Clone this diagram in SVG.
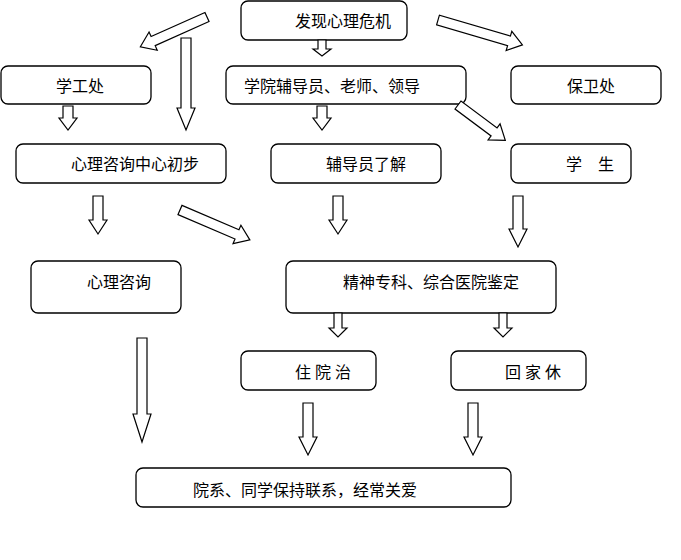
<svg xmlns="http://www.w3.org/2000/svg" width="681" height="560" viewBox="0 0 681 560">
<style>
rect{fill:#fff;stroke:#000;stroke-width:1.3}
text{font-family:"Liberation Serif","Noto Sans CJK SC",serif;font-size:16px;fill:#000}
polygon{fill:#fff;stroke:#000;stroke-width:1.2}
</style>
<rect width="681" height="560" style="stroke:none"/>
<g id="n1"><rect x="241" y="1" width="166" height="39" rx="7"/><text x="295" y="27">发现心理危机</text></g>
<g id="n2"><rect x="1" y="66" width="150" height="38" rx="7"/><text x="56" y="92">学工处</text></g>
<g id="n3"><rect x="226" y="66" width="240" height="38" rx="7"/><text x="244" y="92">学院辅导员、老师、领导</text></g>
<g id="n4"><rect x="511" y="66" width="150" height="38" rx="7"/><text x="567" y="92">保卫处</text></g>
<g id="n5"><rect x="16" y="144" width="210" height="39" rx="7"/><text x="71" y="170">心理咨询中心初步</text></g>
<g id="n6"><rect x="271" y="144" width="170" height="39" rx="7"/><text x="326" y="170">辅导员了解</text></g>
<g id="n7"><rect x="511" y="144" width="120" height="39" rx="7"/><text x="566" y="170">学　生</text></g>
<g id="n8"><rect x="31" y="261" width="150" height="52" rx="7"/><text x="87" y="288">心理咨询</text></g>
<g id="n9"><rect x="286" y="261" width="270" height="52" rx="7"/><text x="343" y="288">精神专科、综合医院鉴定</text></g>
<g id="n10"><rect x="241" y="351" width="135" height="39" rx="7"/><text x="295" y="378">住 院 治</text></g>
<g id="n11"><rect x="451" y="351" width="135" height="39" rx="7"/><text x="505" y="378">回 家 休</text></g>
<g id="n12"><rect x="136" y="468" width="375" height="39" rx="7"/><text x="193" y="496">院系、同学保持联系，经常关爱</text></g>
<g id="connectors">
<polygon transform="translate(207,17) rotate(65.9)" points="-5,0 5,0 5,59 10,59 0,73 -10,59 -5,59"/>
<polygon points="181,38 191,38 191,108 195,108 186,130 177,108 181,108"/>
<polygon points="318,40 326,40 326,49 331,49 322,56 313,49 318,49"/>
<polygon transform="translate(438,20) rotate(-73.6)" points="-5,0 5,0 5,74 10,74 0,88 -10,74 -5,74"/>
<polygon points="63,106 73,106 73,118 77,118 68,130 59,118 63,118"/>
<polygon points="317,106 327,106 327,118 331,118 322,130 313,118 317,118"/>
<polygon transform="translate(458,105) rotate(-53.3)" points="-5,0 5,0 5,45 10,45 0,59 -10,45 -5,45"/>
<polygon points="93,196 103,196 103,220 107,220 98,234 89,220 93,220"/>
<polygon transform="translate(180,210) rotate(-66.8)" points="-5,0 5,0 5,62 10,62 0,76 -10,62 -5,62"/>
<polygon points="333,196 343,196 343,220 347,220 338,234 329,220 333,220"/>
<polygon points="513,196 523,196 523,229 527,229 518,247 509,229 513,229"/>
<polygon points="137,338 147,338 147,414 151,414 142,442 133,414 137,414"/>
<polygon points="334,313 342,313 342,328 347,328 338,337 329,328 334,328"/>
<polygon points="499,313 507,313 507,328 512,328 503,337 494,328 499,328"/>
<polygon points="303,403 313,403 313,437 317,437 308,455 299,437 303,437"/>
<polygon points="468,403 478,403 478,437 482,437 473,455 464,437 468,437"/>
</g>
</svg>
